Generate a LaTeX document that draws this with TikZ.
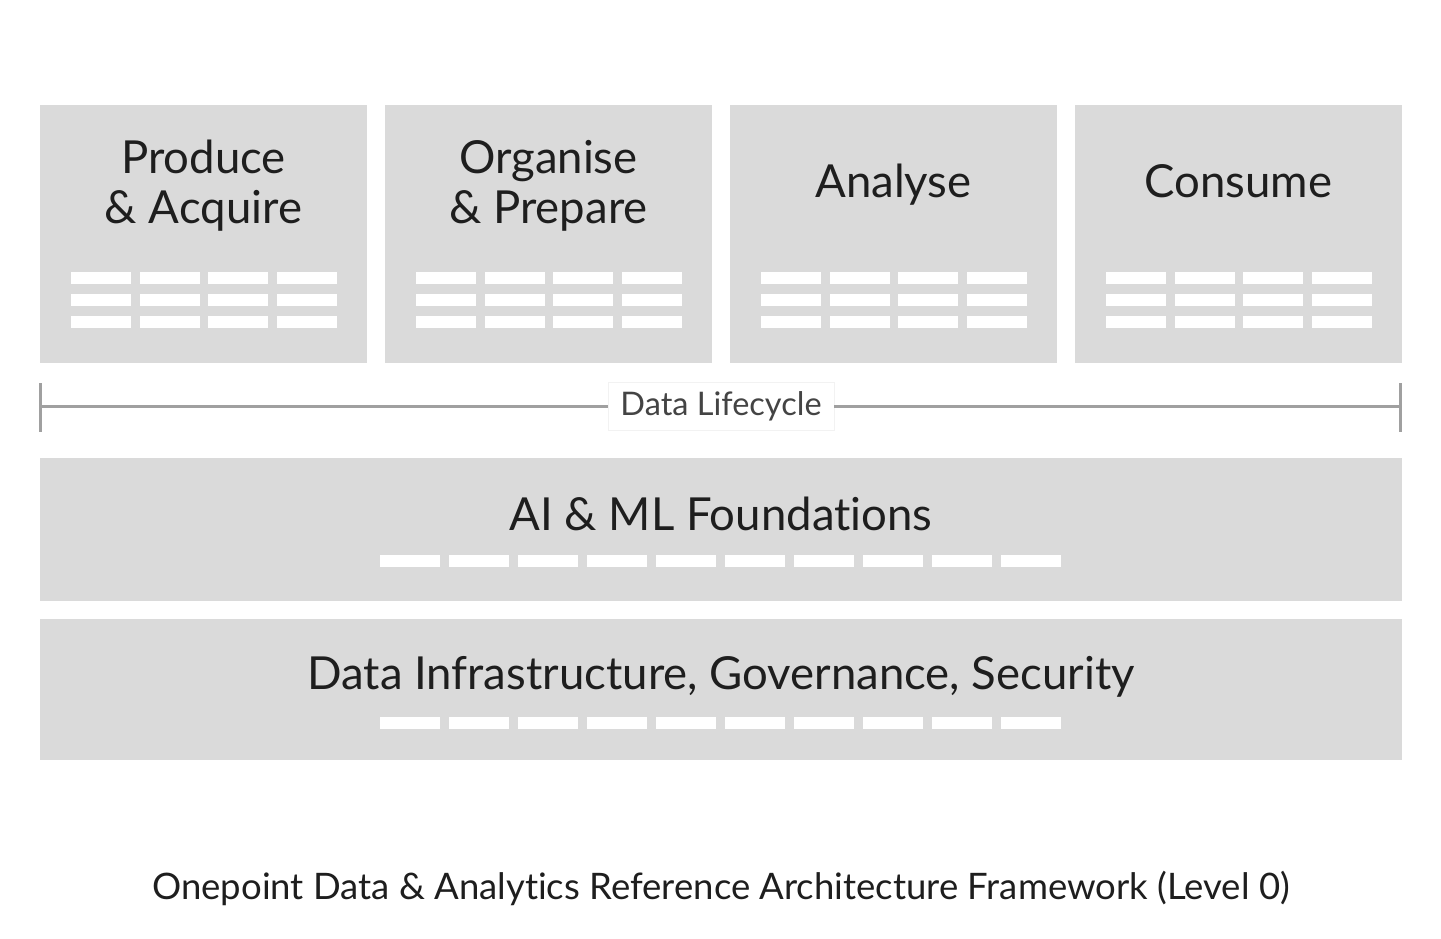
\documentclass[tikz,border=0pt]{standalone}
\usepackage{fontspec}
\setmainfont[Ligatures=NoCommon]{Lato}
\definecolor{boxgray}{HTML}{DADADA}
\definecolor{txt}{HTML}{1E1E1E}
\definecolor{linegray}{HTML}{A0A0A0}
\definecolor{lbl}{HTML}{444444}
\begin{document}
\begin{tikzpicture}[x=1pt,y=-1pt,
  panel/.style={fill=boxgray,draw=none},
  bar/.style={fill=white,draw=none},
  head/.style={text=txt,font=\fontsize{45.5}{50}\selectfont,inner sep=0pt,align=center,anchor=base},
  lifeline/.style={draw=linegray,line width=3pt},
  lifelbl/.style={text=lbl,font=\fontsize{32.5}{36}\selectfont,fill=white,draw=black!5,line width=0.6pt,minimum width=226pt,minimum height=48pt,inner sep=0pt},
  foot/.style={text=txt,font=\fontsize{36.5}{40}\selectfont,inner sep=0pt,anchor=base}]
\useasboundingbox[fill=white] (0,0) rectangle (1441,939);
% top panels
\foreach \L/\nm in {40/p1,385/p2,730/p3,1075/p4}{
  \path[panel] (\L,105) rectangle ++(327,258);
  \foreach \j in {0,1,2,3}{
    \foreach \r in {272,294,316}{
      \path[bar] (\L+31+\j*68.7,\r) rectangle ++(60,12);
    }
  }
}
\node[head] (t1) at (203.5,223) {Produce\\\& Acquire};
\node[head] (t2) at (548.5,223) {Organise\\\& Prepare};
\node[head] (t3) at (893.5,197) {Analyse};
\node[head] (t4) at (1238.5,197) {Consume};
% lifecycle
\coordinate (la) at (40,406);
\coordinate (lb) at (1400,406);
\node[lifelbl] (life) at (721,406) {Data Lifecycle};
\draw[lifeline] (la) -- (life.west);
\draw[lifeline] (life.east) -- (lb);
\draw[lifeline] (40,383) -- (40,432);
\draw[lifeline] (1400,383) -- (1400,432);
% bands
\path[panel] (40,458) rectangle (1402,601);
\path[panel] (40,619) rectangle (1402,760);
\foreach \j in {0,...,9}{
  \path[bar] (380+\j*69,555) rectangle ++(60,12);
  \path[bar] (380+\j*69,717) rectangle ++(60,12);
}
\node[head] (ai) at (721,530) {AI \& ML Foundations};
\node[head] (inf) at (721,689) {Data Infrastructure, Governance, Security};
\node[foot] (ft) at (721,899) {Onepoint Data \& Analytics Reference Architecture Framework (Level 0)};
\end{tikzpicture}
\end{document}
